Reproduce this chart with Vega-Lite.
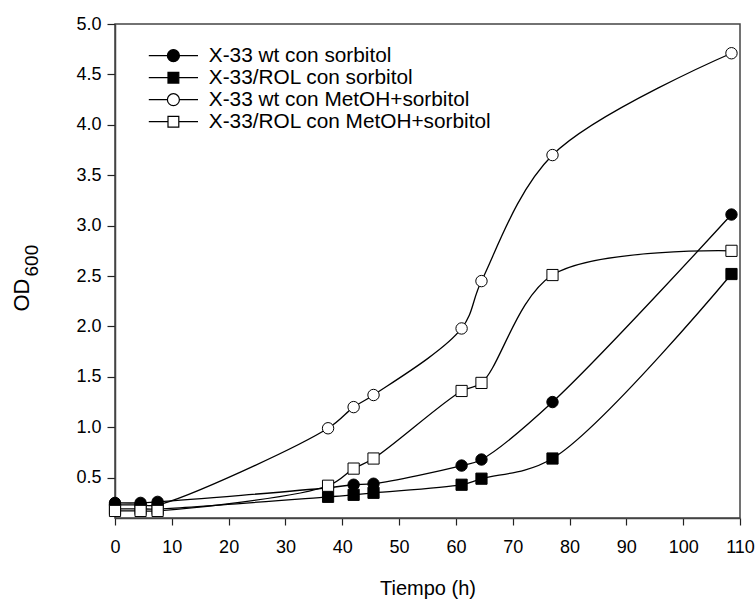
{
  "$schema": "https://vega.github.io/schema/vega-lite/v6.json",
  "width": 625,
  "height": 494,
  "autosize": {"type": "none"},
  "padding": {"left": 115, "top": 24, "right": 15, "bottom": 83},
  "background": "white",
  "config": {
    "font": "Liberation Sans",
    "view": {"stroke": "#444444", "strokeWidth": 1.5},
    "axis": {
      "grid": false,
      "domainColor": "#444444",
      "domainWidth": 1.5,
      "tickColor": "#222222",
      "tickWidth": 1.2,
      "labelFont": "Liberation Sans",
      "labelFontSize": 18,
      "labelColor": "black",
      "labelFlush": false,
      "titleFont": "Liberation Sans",
      "titleFontSize": 20,
      "titleFontWeight": "normal",
      "titleColor": "black"
    },
    "legend": {
      "orient": "none",
      "legendX": 48,
      "legendY": 21.3,
      "padding": 0,
      "labelFont": "Liberation Sans",
      "labelFontSize": 20.8,
      "labelColor": "black",
      "labelLimit": 500,
      "labelOffset": 25,
      "symbolSize": 144,
      "symbolOpacity": 1,
      "symbolStrokeColor": "black",
      "symbolStrokeWidth": 1.2,
      "rowPadding": 0
    }
  },
  "data": {
    "values": [
      {"series": "X-33 wt con MetOH+sorbitol", "t": 0, "od": 0.23},
      {"series": "X-33 wt con MetOH+sorbitol", "t": 4.5, "od": 0.23},
      {"series": "X-33 wt con MetOH+sorbitol", "t": 7.5, "od": 0.23},
      {"series": "X-33 wt con MetOH+sorbitol", "t": 37.5, "od": 0.99},
      {"series": "X-33 wt con MetOH+sorbitol", "t": 42, "od": 1.2},
      {"series": "X-33 wt con MetOH+sorbitol", "t": 45.5, "od": 1.32},
      {"series": "X-33 wt con MetOH+sorbitol", "t": 61, "od": 1.98},
      {"series": "X-33 wt con MetOH+sorbitol", "t": 64.5, "od": 2.45},
      {"series": "X-33 wt con MetOH+sorbitol", "t": 77, "od": 3.7},
      {"series": "X-33 wt con MetOH+sorbitol", "t": 108.5, "od": 4.71},
      {"series": "X-33 wt con sorbitol", "t": 0, "od": 0.25},
      {"series": "X-33 wt con sorbitol", "t": 4.5, "od": 0.25},
      {"series": "X-33 wt con sorbitol", "t": 7.5, "od": 0.26},
      {"series": "X-33 wt con sorbitol", "t": 37.5, "od": 0.4},
      {"series": "X-33 wt con sorbitol", "t": 42, "od": 0.43},
      {"series": "X-33 wt con sorbitol", "t": 45.5, "od": 0.44},
      {"series": "X-33 wt con sorbitol", "t": 61, "od": 0.62},
      {"series": "X-33 wt con sorbitol", "t": 64.5, "od": 0.68},
      {"series": "X-33 wt con sorbitol", "t": 77, "od": 1.25},
      {"series": "X-33 wt con sorbitol", "t": 108.5, "od": 3.11},
      {"series": "X-33/ROL con sorbitol", "t": 0, "od": 0.19},
      {"series": "X-33/ROL con sorbitol", "t": 4.5, "od": 0.19},
      {"series": "X-33/ROL con sorbitol", "t": 7.5, "od": 0.19},
      {"series": "X-33/ROL con sorbitol", "t": 37.5, "od": 0.31},
      {"series": "X-33/ROL con sorbitol", "t": 42, "od": 0.33},
      {"series": "X-33/ROL con sorbitol", "t": 45.5, "od": 0.35},
      {"series": "X-33/ROL con sorbitol", "t": 61, "od": 0.43},
      {"series": "X-33/ROL con sorbitol", "t": 64.5, "od": 0.49},
      {"series": "X-33/ROL con sorbitol", "t": 77, "od": 0.69},
      {"series": "X-33/ROL con sorbitol", "t": 108.5, "od": 2.52},
      {"series": "X-33/ROL con MetOH+sorbitol", "t": 0, "od": 0.17},
      {"series": "X-33/ROL con MetOH+sorbitol", "t": 4.5, "od": 0.17},
      {"series": "X-33/ROL con MetOH+sorbitol", "t": 7.5, "od": 0.17},
      {"series": "X-33/ROL con MetOH+sorbitol", "t": 37.5, "od": 0.42},
      {"series": "X-33/ROL con MetOH+sorbitol", "t": 42, "od": 0.59},
      {"series": "X-33/ROL con MetOH+sorbitol", "t": 45.5, "od": 0.69},
      {"series": "X-33/ROL con MetOH+sorbitol", "t": 61, "od": 1.36},
      {"series": "X-33/ROL con MetOH+sorbitol", "t": 64.5, "od": 1.44},
      {"series": "X-33/ROL con MetOH+sorbitol", "t": 77, "od": 2.51},
      {"series": "X-33/ROL con MetOH+sorbitol", "t": 108.5, "od": 2.75}
    ]
  },
  "encoding": {
    "x": {
      "field": "t",
      "type": "quantitative",
      "scale": {"domain": [0, 110], "nice": false, "zero": false},
      "axis": {
        "title": "Tiempo (h)",
        "values": [0, 10, 20, 30, 40, 50, 60, 70, 80, 90, 100, 110],
        "tickSize": 7,
        "labelPadding": 13,
        "titleY": 76,
        "titleBaseline": "alphabetic"
      }
    }
  },
  "layer": [
    {
      "mark": {"type": "line", "interpolate": "catmull-rom", "color": "black", "strokeWidth": 1.3},
      "encoding": {
        "y": {
          "field": "od",
          "type": "quantitative",
          "scale": {"domain": [0.1, 5], "nice": false, "zero": false},
          "axis": {
            "orient": "left",
            "title": "OD",
            "values": [0.5, 1, 1.5, 2, 2.5, 3, 3.5, 4, 4.5, 5],
            "format": ".1f",
            "tickSize": 8,
            "labelPadding": 6,
            "titleFontSize": 22,
            "titleX": -87,
            "titleY": 287,
            "titleBaseline": "alphabetic",
            "titleAlign": "left",
            "titleAngle": -90
          }
        },
        "detail": {"field": "series", "type": "nominal"},
        "order": {"field": "t", "type": "quantitative"}
      }
    },
    {
      "transform": [{"filter": "indexof(datum.series, 'ROL') < 0"}],
      "mark": {"type": "point", "shape": "circle", "filled": true, "stroke": "black", "strokeWidth": 1, "size": 130, "opacity": 1},
      "encoding": {
        "y": {
          "field": "od",
          "type": "quantitative",
          "scale": {"domain": [0.1, 5], "nice": false, "zero": false},
          "axis": {
            "orient": "right",
            "title": "600",
            "labels": false,
            "ticks": false,
            "domain": false,
            "titleFontSize": 19,
            "titleX": -703,
            "titleY": 252,
            "titleBaseline": "alphabetic",
            "titleAlign": "left",
            "titleAngle": -90
          }
        },
        "fill": {
          "field": "series",
          "type": "nominal",
          "title": null,
          "scale": {
            "domain": ["X-33 wt con sorbitol", "X-33/ROL con sorbitol", "X-33 wt con MetOH+sorbitol", "X-33/ROL con MetOH+sorbitol"],
            "range": ["black", "black", "white", "white"]
          }
        }
      }
    },
    {
      "transform": [{"filter": "indexof(datum.series, 'ROL') >= 0"}],
      "mark": {"type": "point", "shape": "square", "filled": true, "stroke": "black", "strokeWidth": 1, "size": 125, "opacity": 1},
      "encoding": {
        "y": {"field": "od", "type": "quantitative", "axis": null},
        "fill": {
          "field": "series",
          "type": "nominal",
          "title": null,
          "scale": {
            "domain": ["X-33 wt con sorbitol", "X-33/ROL con sorbitol", "X-33 wt con MetOH+sorbitol", "X-33/ROL con MetOH+sorbitol"],
            "range": ["black", "black", "white", "white"]
          }
        }
      }
    },
    {
      "transform": [{"filter": "datum.t < 0"}],
      "mark": {"type": "point", "filled": true, "strokeWidth": 1.2, "size": 144, "opacity": 1},
      "encoding": {
        "y": {"field": "od", "type": "quantitative", "axis": null},
        "fill": {
          "field": "series",
          "type": "nominal",
          "title": null,
          "scale": {
            "domain": ["X-33 wt con sorbitol", "X-33/ROL con sorbitol", "X-33 wt con MetOH+sorbitol", "X-33/ROL con MetOH+sorbitol"],
            "range": ["black", "black", "white", "white"]
          }
        },
        "stroke": {
          "field": "series",
          "type": "nominal",
          "title": null,
          "scale": {
            "domain": ["X-33 wt con sorbitol", "X-33/ROL con sorbitol", "X-33 wt con MetOH+sorbitol", "X-33/ROL con MetOH+sorbitol"],
            "range": ["black", "black", "black", "black"]
          }
        },
        "shape": {
          "field": "series",
          "type": "nominal",
          "title": null,
          "scale": {
            "domain": ["X-33 wt con sorbitol", "X-33/ROL con sorbitol", "X-33 wt con MetOH+sorbitol", "X-33/ROL con MetOH+sorbitol"],
            "range": [
              "M-4.1,0H-1M1,0H4.1M-1,0A1,1 0 1,1 1,0A1,1 0 1,1 -1,0Z",
              "M-4.1,0H-0.9M0.9,0H4.1M-0.9,-0.9H0.9V0.9H-0.9Z",
              "M-4.1,0H-1M1,0H4.1M-1,0A1,1 0 1,1 1,0A1,1 0 1,1 -1,0Z",
              "M-4.1,0H-0.9M0.9,0H4.1M-0.9,-0.9H0.9V0.9H-0.9Z"
            ]
          }
        }
      }
    }
  ],
  "resolve": {"axis": {"y": "independent"}}
}
